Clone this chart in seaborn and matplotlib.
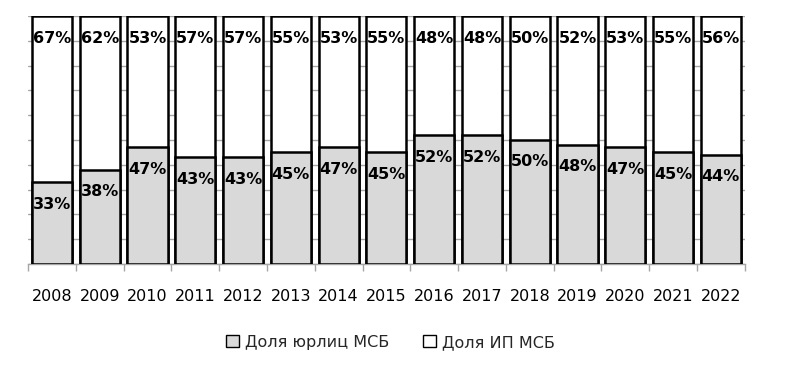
import matplotlib
matplotlib.use("Agg")
import matplotlib.pyplot as plt
import seaborn as sns
import numpy as np
from matplotlib.patches import Patch
from matplotlib.ticker import MultipleLocator, FixedLocator, NullFormatter

years = ["2008", "2009", "2010", "2011", "2012", "2013", "2014", "2015",
         "2016", "2017", "2018", "2019", "2020", "2021", "2022"]
jur_share = [33, 38, 47, 43, 43, 45, 47, 45, 52, 52, 50, 48, 47, 45, 44]
ip_share = [67, 62, 53, 57, 57, 55, 53, 55, 48, 48, 50, 52, 53, 55, 56]
series_names = ["Доля юрлиц МСБ", "Доля ИП МСБ"]

sns.set_theme(style="white")
plt.rcParams["font.family"] = ["DejaVu Sans"]

fig = plt.figure(figsize=(7.89, 3.65), dpi=100)
ax = fig.add_axes([0.0355, 0.277, 0.9085, 0.679])

total = [j + i for j, i in zip(jur_share, ip_share)]
gray = "#d9d9d9"

sns.barplot(x=years, y=total, color="white", edgecolor="black", linewidth=1.8,
            width=0.84, saturation=1, ax=ax, zorder=2)
sns.barplot(x=years, y=jur_share, color=gray, edgecolor="black", linewidth=1.8,
            width=0.84, saturation=1, ax=ax, zorder=3)

ax.set_xlim(-0.5, len(years) - 0.5)
ax.set_ylim(0, 100)
ax.yaxis.set_major_locator(MultipleLocator(10))
ax.set_yticklabels([])
ax.tick_params(axis="y", length=0)
ax.grid(axis="y", color="#a6a6a6", linewidth=1.0, zorder=0)
ax.set_axisbelow(True)
ax.set_xlabel("")
ax.set_ylabel("")

for s in ["top", "right", "left"]:
    ax.spines[s].set_visible(False)
ax.spines["bottom"].set_color("#a6a6a6")
ax.spines["bottom"].set_linewidth(1.0)

ax.xaxis.set_minor_locator(FixedLocator(np.arange(-0.5, len(years), 1.0)))
ax.xaxis.set_minor_formatter(NullFormatter())
ax.tick_params(axis="x", which="minor", length=5, width=1.0, color="#a6a6a6", bottom=True)
ax.tick_params(axis="x", which="major", length=0, pad=18, labelsize=11.5, labelcolor="black")

for i, (j, p) in enumerate(zip(jur_share, ip_share)):
    ax.annotate(f"{j}%", xy=(i, j), xytext=(0, -22), textcoords="offset pixels",
                ha="center", va="center", fontsize=11.5, fontweight="bold",
                color="black", zorder=5)
    ax.annotate(f"{p}%", xy=(i, j + p), xytext=(0, -22), textcoords="offset pixels",
                ha="center", va="center", fontsize=11.5, fontweight="bold",
                color="black", zorder=5)

handles = [Patch(facecolor=gray, edgecolor="black", linewidth=1.0),
           Patch(facecolor="white", edgecolor="black", linewidth=1.0)]
fig.legend(handles, series_names, loc="center", bbox_to_anchor=(0.495, 0.062),
           ncol=2, frameon=False, fontsize=11.5, handlelength=0.8, handleheight=0.8,
           handletextpad=0.4, columnspacing=2.1)

fig.savefig("out.png", dpi=100)
